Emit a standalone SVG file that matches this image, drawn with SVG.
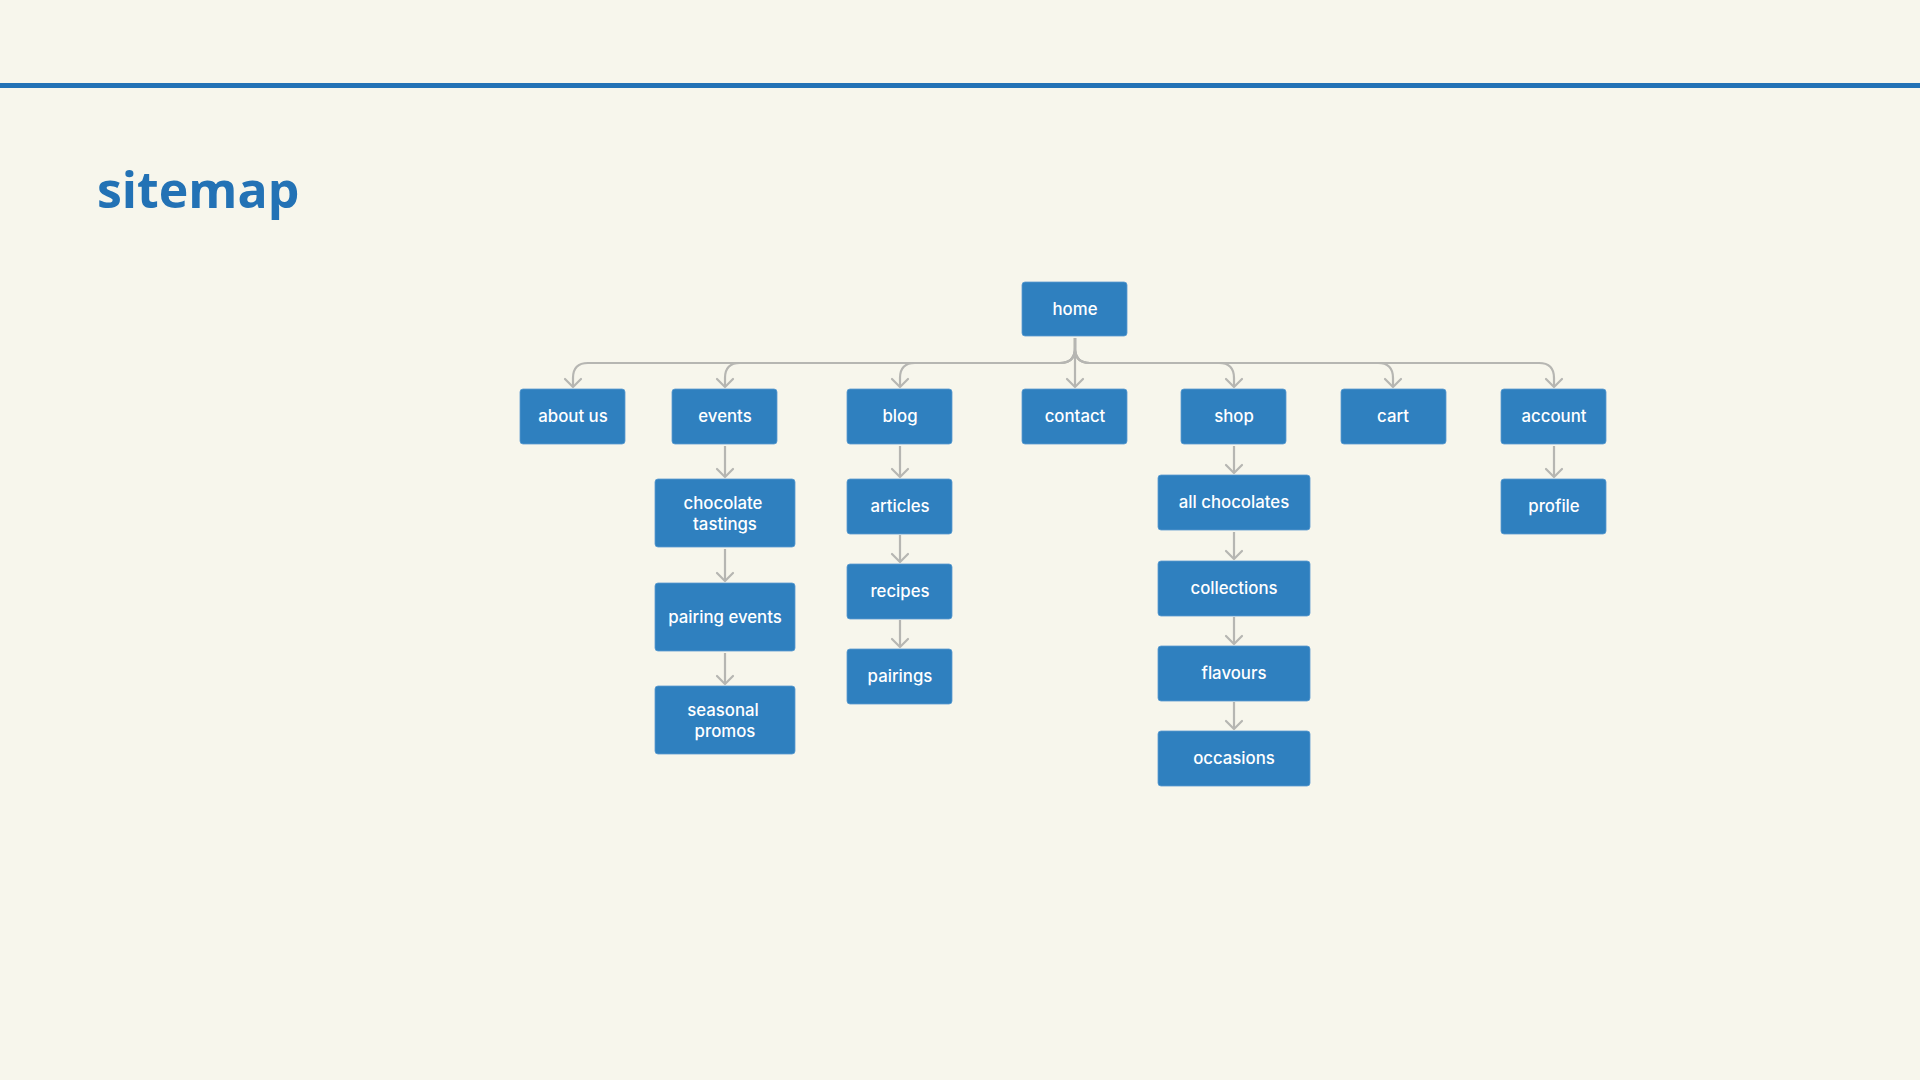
<svg xmlns="http://www.w3.org/2000/svg" width="1920" height="1080" viewBox="0 0 1920 1080">
<defs>
<style>
.bg{fill:#F7F6EC}
.node rect{fill:#2F80BF;stroke:#5B9BD0;stroke-width:0.8}
.node text{fill:#FFFFFF;font-family:Inter,"Noto Sans",sans-serif;font-size:16.8px;font-weight:500;text-anchor:middle}
.conn{fill:none;stroke:#B6B6B2;stroke-width:2.2;marker-end:url(#arr)}
.title{fill:#2372B5;font-family:"Open Sans","Noto Sans",sans-serif;font-weight:700;font-size:50px}
</style>
<marker id="arr" viewBox="-2 -2 12 20" refX="8" refY="8" markerWidth="12" markerHeight="20" markerUnits="userSpaceOnUse" orient="auto">
<path d="M0,0 L8,8 L0,16" fill="none" stroke="#B6B6B2" stroke-width="2.2" stroke-linecap="round" stroke-linejoin="round"/>
</marker>
</defs>
<rect class="bg" x="0" y="0" width="1920" height="1080"/>
<rect x="0" y="83" width="1920" height="5" fill="#2372B5"/>
<text class="title" x="97" y="208">sitemap</text>

<g id="connectors">
<path class="conn" d="M1075,338 V348 Q1075,363 1060,363 H588 Q573,363 573,378 V387"/>
<path class="conn" d="M1075,338 V348 Q1075,363 1060,363 H740 Q725,363 725,378 V387"/>
<path class="conn" d="M1075,338 V348 Q1075,363 1060,363 H915 Q900,363 900,378 V387"/>
<path class="conn" d="M1075,338 V387"/>
<path class="conn" d="M1075,338 V348 Q1075,363 1090,363 H1219 Q1234,363 1234,378 V387"/>
<path class="conn" d="M1075,338 V348 Q1075,363 1090,363 H1378 Q1393,363 1393,378 V387"/>
<path class="conn" d="M1075,338 V348 Q1075,363 1090,363 H1539 Q1554,363 1554,378 V387"/>
<path class="conn" d="M725,446 V477"/>
<path class="conn" d="M725,549 V581"/>
<path class="conn" d="M725,653 V684"/>
<path class="conn" d="M900,446 V477"/>
<path class="conn" d="M900,535 V562"/>
<path class="conn" d="M900,620 V647"/>
<path class="conn" d="M1234,446 V473"/>
<path class="conn" d="M1234,532 V559"/>
<path class="conn" d="M1234,617 V644"/>
<path class="conn" d="M1234,702 V729"/>
<path class="conn" d="M1554,446 V477"/>
</g>

<g id="home" class="node"><rect x="1022" y="282" width="105" height="54" rx="3"/><text x="1075" y="314.5">home</text></g>
<g id="about-us" class="node"><rect x="520" y="389" width="105" height="55" rx="3"/><text x="573" y="422">about us</text></g>
<g id="events" class="node"><rect x="672" y="389" width="105" height="55" rx="3"/><text x="725" y="422">events</text></g>
<g id="blog" class="node"><rect x="847" y="389" width="105" height="55" rx="3"/><text x="900" y="422">blog</text></g>
<g id="contact" class="node"><rect x="1022" y="389" width="105" height="55" rx="3"/><text x="1075" y="422">contact</text></g>
<g id="shop" class="node"><rect x="1181" y="389" width="105" height="55" rx="3"/><text x="1234" y="422">shop</text></g>
<g id="cart" class="node"><rect x="1341" y="389" width="105" height="55" rx="3"/><text x="1393" y="422">cart</text></g>
<g id="account" class="node"><rect x="1501" y="389" width="105" height="55" rx="3"/><text x="1554" y="422">account</text></g>

<g id="chocolate-tastings" class="node"><rect x="655" y="479" width="140" height="68" rx="3"/><text x="723" y="508.5">chocolate</text><text x="725" y="529.5">tastings</text></g>
<g id="pairing-events" class="node"><rect x="655" y="583" width="140" height="68" rx="3"/><text x="725" y="622.5">pairing events</text></g>
<g id="seasonal-promos" class="node"><rect x="655" y="686" width="140" height="68" rx="3"/><text x="723" y="715.5">seasonal</text><text x="725" y="736.5">promos</text></g>

<g id="articles" class="node"><rect x="847" y="479" width="105" height="55" rx="3"/><text x="900" y="512">articles</text></g>
<g id="recipes" class="node"><rect x="847" y="564" width="105" height="55" rx="3"/><text x="900" y="597">recipes</text></g>
<g id="pairings" class="node"><rect x="847" y="649" width="105" height="55" rx="3"/><text x="900" y="682">pairings</text></g>

<g id="all-chocolates" class="node"><rect x="1158" y="475" width="152" height="55" rx="3"/><text x="1234" y="508">all chocolates</text></g>
<g id="collections" class="node"><rect x="1158" y="561" width="152" height="55" rx="3"/><text x="1234" y="594">collections</text></g>
<g id="flavours" class="node"><rect x="1158" y="646" width="152" height="55" rx="3"/><text x="1234" y="679">flavours</text></g>
<g id="occasions" class="node"><rect x="1158" y="731" width="152" height="55" rx="3"/><text x="1234" y="764">occasions</text></g>

<g id="profile" class="node"><rect x="1501" y="479" width="105" height="55" rx="3"/><text x="1554" y="512">profile</text></g>
</svg>
